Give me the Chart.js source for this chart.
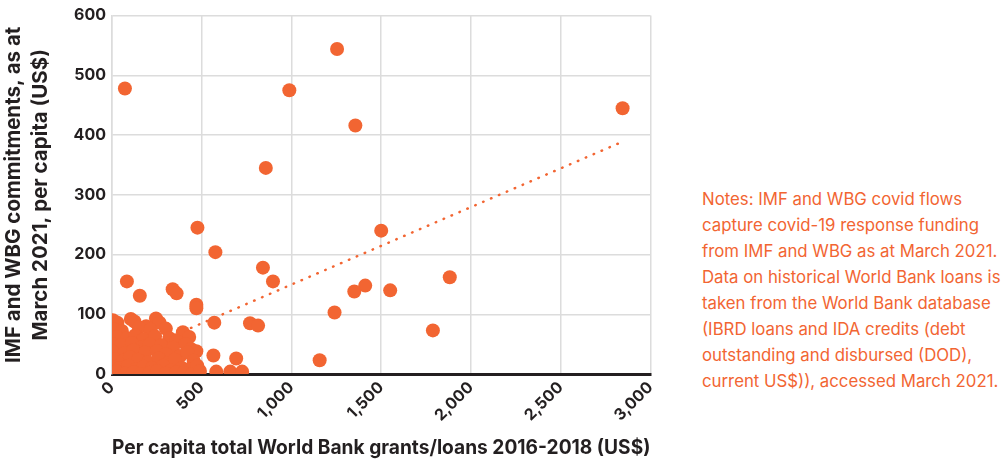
<!DOCTYPE html>
<html>
<head>
<meta charset="utf-8">
<script src="https://cdn.jsdelivr.net/npm/chart.js@4.4.0/dist/chart.umd.min.js"></script>
<style>
    html, body { margin: 0; padding: 0; background: #fff; }
    #wrap { position: absolute; left: 0; top: 0; width: 668px; height: 464px; }
    #notes {
        position: absolute; left: 702px; top: 186px; width: 310px;
        font-family: Inter, "Noto Sans", sans-serif; font-size: 16.8px; line-height: 26px;
        color: #f26532; white-space: nowrap;
    }
</style>
</head>
<body>
<div id="wrap"><canvas id="grafico"></canvas></div>
<div id="notes">Notes: IMF and WBG covid flows<br>capture covid-19 response funding<br>from IMF and WBG as at March 2021.<br>Data on historical World Bank loans is<br>taken from the World Bank database<br>(IBRD loans and IDA credits (debt<br>outstanding and disbursed (DOD),<br>current US$)), accessed March 2021.</div>
<script>
// per capita WB grants/loans 2016-2018 (x) vs IMF+WBG covid commitments (y)
const puntosX = [72, 1254, 988, 1356, 2845, 857, 476, 576, 1500, 841, 897, 1882, 1411, 1350, 1550, 1240, 1788, 1157,
    83, 155, 338, 360, 470, 470, 570, 769, 814, 565, 692, 581, 659, 725,
    5, 30, 105, 125, 245, 265, 190,
    10, 55, 150, 215, 300, 395, 430,
    25, 85, 130, 175, 240, 320, 360, 410,
    5, 50, 110, 165, 210, 275, 340, 440, 470,
    0, 70, 120, 185, 250, 300, 380, 420,
    15, 60, 100, 145, 200, 260, 310, 350, 455,
    5, 40, 90, 135, 175, 225, 285, 330, 390, 430, 475,
    0, 25, 75, 120, 160, 210, 250, 300, 360, 400, 445, 490];
const puntosY = [478, 544, 475, 416, 445, 345, 245, 204, 240, 178, 155, 162, 148, 138, 140, 103, 73, 23,
    155, 131, 142, 135, 116, 110, 86, 85, 81, 31, 26, 4, 4, 4,
    90, 86, 92, 88, 93, 86, 80,
    75, 72, 78, 74, 76, 70, 62,
    62, 60, 65, 58, 63, 60, 55, 50,
    50, 48, 52, 45, 50, 48, 44, 42, 38,
    38, 35, 40, 36, 38, 33, 30, 36,
    25, 22, 28, 24, 20, 26, 18, 24, 22,
    12, 10, 14, 8, 12, 10, 14, 6, 10, 8, 14,
    2, 4, 1, 3, 0, 2, 5, 1, 3, 2, 0, 5];

// linea de tendencia (extremos)
const tendenciaX = [0, 2830];
const tendenciaY = [20, 387];

const ticksX = [0, 500, 1000, 1500, 2000, 2500, 3000];
const ticksY = [0, 100, 200, 300, 400, 500, 600];

const naranja = '#f26532';
const oscuro = '#231f20';
const gris = '#dcdcdc';

const datosPuntos = puntosX.map((x, i) => ({ x: x, y: puntosY[i] }));
const datosTendencia = tendenciaX.map((x, i) => ({ x: x, y: tendenciaY[i] }));

const fuenteTicks = { family: 'Inter, sans-serif', size: 16, weight: 'bold' };

const ctx = document.getElementById('grafico').getContext('2d');
new Chart(ctx, {
    type: 'scatter',
    data: {
        datasets: [{
            data: datosPuntos,
            backgroundColor: naranja,
            borderWidth: 0,
            pointRadius: 7,
            order: 1
        }, {
            type: 'line',
            data: datosTendencia,
            borderColor: naranja,
            borderWidth: 2.5,
            borderDash: [0.5, 8.1],
            borderCapStyle: 'round',
            pointRadius: 0,
            fill: false,
            order: 2
        }]
    },
    options: {
        responsive: true,
        maintainAspectRatio: false,
        animation: false,
        layout: { padding: { top: 8, right: 9, bottom: 4, left: 0 } },
        plugins: { legend: { display: false }, tooltip: { enabled: false } },
        scales: {
            x: {
                type: 'linear',
                min: 0, max: 3000,
                afterBuildTicks: (scale) => { scale.ticks = ticksX.map(v => ({ value: v })); },
                afterFit: (scale) => { scale.height = 86; },
                ticks: {
                    color: oscuro, font: fuenteTicks, minRotation: 45, maxRotation: 45, padding: 4,
                    callback: (v) => v.toLocaleString('en-US')
                },
                grid: { color: gris, lineWidth: 1.5, drawTicks: false },
                border: { color: oscuro, width: 3 },
                title: {
                    display: true, text: 'Per capita total World Bank grants/loans 2016-2018 (US$)',
                    color: oscuro, font: { family: 'Inter, sans-serif', size: 19.9, weight: 'bold' },
                    padding: { top: 0, bottom: 0 }
                }
            },
            y: {
                type: 'linear',
                min: 0, max: 600,
                afterBuildTicks: (scale) => { scale.ticks = ticksY.map(v => ({ value: v })); },
                afterFit: (scale) => { scale.width = 112; },
                ticks: { color: oscuro, font: fuenteTicks, padding: 6 },
                grid: { color: gris, lineWidth: 1.5, drawTicks: false },
                border: { color: gris, width: 1.5 },
                title: {
                    display: true, text: ['IMF and WBG commitments, as at', 'March 2021, per capita (US$)'],
                    color: oscuro, font: { family: 'Inter, sans-serif', size: 20.5, weight: 'bold', lineHeight: 1.28 },
                    padding: { top: 1, bottom: 0 }
                }
            }
        }
    }
});
</script>
</body>
</html>
